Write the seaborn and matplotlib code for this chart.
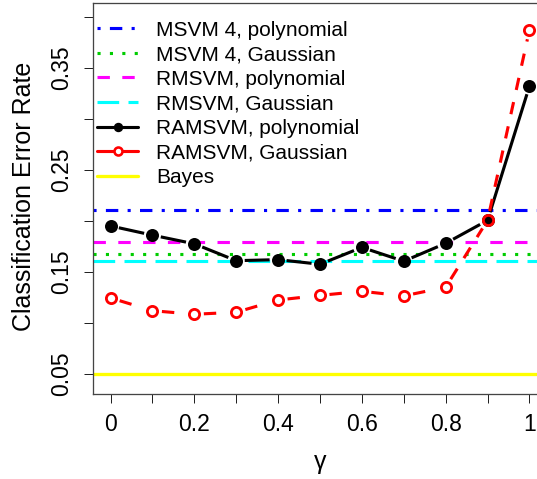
import numpy as np
import pandas as pd
import matplotlib
matplotlib.use("Agg")
import matplotlib.pyplot as plt
from matplotlib.lines import Line2D
import seaborn as sns

# ---------------- data ----------------
gamma = [0.0, 0.1, 0.2, 0.3, 0.4, 0.5, 0.6, 0.7, 0.8, 0.9, 1.0]
ramsvm_poly = [0.195, 0.186, 0.1775, 0.161, 0.162, 0.1575, 0.174, 0.1605, 0.178, 0.2005, 0.332]
ramsvm_gauss = [0.1245, 0.112, 0.1085, 0.1105, 0.1225, 0.127, 0.131, 0.1265, 0.135, 0.2005, 0.387]
msvm4_poly = 0.211
msvm4_gauss = 0.1675
rmsvm_poly = 0.179
rmsvm_gauss = 0.1605
bayes = 0.05

x_ticks = [0.0, 0.1, 0.2, 0.3, 0.4, 0.5, 0.6, 0.7, 0.8, 0.9, 1.0]
x_tick_labels = ["0", "", "0.2", "", "0.4", "", "0.6", "", "0.8", "", "1"]
y_ticks = [0.05, 0.10, 0.15, 0.20, 0.25, 0.30, 0.35, 0.40]
y_tick_labels = ["0.05", "", "0.15", "", "0.25", "", "0.35", ""]

legend_labels = ["MSVM 4, polynomial", "MSVM 4, Gaussian", "RMSVM, polynomial",
                 "RMSVM, Gaussian", "RAMSVM, polynomial", "RAMSVM, Gaussian", "Bayes"]

# ---------------- style ----------------
sns.set_style("ticks")
plt.rcParams["font.family"] = ["Liberation Sans", "DejaVu Sans"]
plt.rcParams["text.color"] = "black"
plt.rcParams["axes.labelcolor"] = "black"
plt.rcParams["xtick.color"] = "black"
plt.rcParams["ytick.color"] = "black"

W, H, DPI = 537, 479, 100
fig = plt.figure(figsize=(W / DPI, H / DPI), dpi=DPI)
left_px, right_px, top_px, bottom_px = 93.3, 546.7, 2.7, 394.0
ax = fig.add_axes([left_px / W, 1 - bottom_px / H,
                   (right_px - left_px) / W, (bottom_px - top_px) / H])
ax.set_xlim(-0.0412, 1.0412)
ax.set_ylim(0.0304, 0.4137)

PX = 72.0 / DPI  # points per pixel
lw = 3.1 * PX

# reference lines
ax.axhline(msvm4_poly, color="#0000FF", lw=lw, ls=(0, (1, 3, 4, 3)))
ax.axhline(msvm4_gauss, color="#00CD00", lw=lw, ls=(0, (1, 3)))
ax.axhline(rmsvm_poly, color="#FF00FF", lw=lw, ls=(0, (4, 4)))
ax.axhline(rmsvm_gauss, color="#00FFFF", lw=lw, ls=(0, (7, 3)))
ax.axhline(bayes, color="#FFFF00", lw=3.3 * PX, ls="-")

df = pd.DataFrame({"gamma": gamma, "poly": ramsvm_poly, "gauss": ramsvm_gauss})


def gapped_segments(xs, ys, gap_px, **kw):
    # R type="b": line segments stop short of the points
    tr = ax.transData
    pts = tr.transform(np.column_stack([xs, ys]))
    inv = tr.inverted()
    for p0, p1 in zip(pts[:-1], pts[1:]):
        d = p1 - p0
        L = np.hypot(*d)
        if L <= 2 * gap_px:
            continue
        u = d / L
        a = inv.transform(p0 + u * gap_px)
        b = inv.transform(p1 - u * gap_px)
        ax.plot([a[0], b[0]], [a[1], b[1]], **kw)


# RAMSVM polynomial: black solid + filled dots
gapped_segments(df["gamma"], df["poly"], 8.5, color="black", lw=lw, ls="-",
                solid_capstyle="butt")
sns.scatterplot(data=df, x="gamma", y="poly", ax=ax, color="black", s=(13 * PX) ** 2,
                marker="o", edgecolor="black", linewidth=0, zorder=5, legend=False)

# RAMSVM Gaussian: red dashed + open circles
gapped_segments(df["gamma"], df["gauss"], 9.5, color="#FF0000", lw=lw, ls=(0, (4, 4)))
ax.plot(df["gamma"], df["gauss"], ls="none", marker="o", ms=10.2 * PX,
        mfc="none", mec="#FF0000", mew=2.8 * PX, zorder=6)

# ---------------- axes ----------------
ax.set_xticks(x_ticks)
ax.set_xticklabels(x_tick_labels)
ax.set_yticks(y_ticks)
ax.set_yticklabels(y_tick_labels, rotation=90, va="center")
ax.tick_params(axis="both", labelsize=16.5, length=9 * PX, width=1 * PX,
               color="#222222", labelcolor="black", direction="out")
ax.tick_params(axis="x", pad=7)
ax.tick_params(axis="y", pad=8)
for s in ["left", "bottom", "top"]:
    ax.spines[s].set_color("#444444")
    ax.spines[s].set_linewidth(1.3 * PX)
ax.spines["right"].set_visible(False)

ax.set_ylabel("Classification Error Rate", fontsize=18, va="center", color="black")
ax.yaxis.set_label_coords(-0.153, 0.505)
ax.set_xlabel("\u03b3", fontsize=18, va="baseline", color="black")
ax.xaxis.set_label_coords(0.5, -0.192)

# ---------------- legend ----------------
handles = [
    Line2D([], [], color="#0000FF", lw=lw, ls=(0, (1, 3, 4, 3))),
    Line2D([], [], color="#00CD00", lw=lw, ls=(0, (1, 3))),
    Line2D([], [], color="#FF00FF", lw=lw, ls=(0, (4, 4))),
    Line2D([], [], color="#00FFFF", lw=lw, ls=(0, (7, 3))),
    Line2D([], [], color="black", lw=lw, ls="-", marker="o", ms=8 * PX, mfc="black", mec="black"),
    Line2D([], [], color="#FF0000", lw=lw, ls="-", marker="o", ms=8 * PX, mfc="white",
           mec="#FF0000", mew=2.6 * PX),
    Line2D([], [], color="#FFFF00", lw=3.3 * PX, ls="-"),
]
leg = ax.legend(handles, legend_labels, loc="upper left",
                bbox_to_anchor=(97 / W, 1 - 20.5 / H), bbox_transform=fig.transFigure,
                frameon=False, fontsize=15, handlelength=1.97, handletextpad=0.86,
                labelspacing=0.27, borderpad=0, borderaxespad=0)
for t in leg.get_texts():
    t.set_color("black")

fig.savefig("out.png", dpi=DPI)
